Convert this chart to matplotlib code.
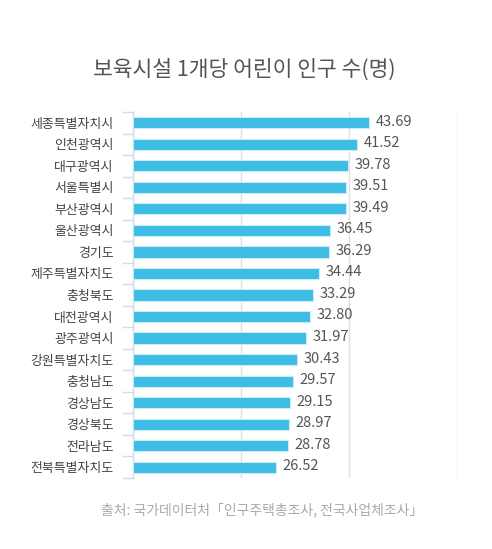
import matplotlib
matplotlib.use("Agg")
import matplotlib.pyplot as plt

plt.rcParams['font.family'] = ['Noto Sans CJK KR', 'DejaVu Sans']

regions = ["세종특별자치시", "인천광역시", "대구광역시", "서울특별시", "부산광역시", "울산광역시",
           "경기도", "제주특별자치도", "충청북도", "대전광역시", "광주광역시", "강원특별자치도",
           "충청남도", "경상남도", "경상북도", "전라남도", "전북특별자치도"]
values = [43.69, 41.52, 39.78, 39.51, 39.49, 36.45, 36.29, 34.44, 33.29, 32.80, 31.97,
          30.43, 29.57, 29.15, 28.97, 28.78, 26.52]
value_labels = ["43.69", "41.52", "39.78", "39.51", "39.49", "36.45", "36.29", "34.44", "33.29",
                "32.80", "31.97", "30.43", "29.57", "29.15", "28.97", "28.78", "26.52"]
x_grid = [0, 20, 40, 60]

title = "보육시설 1개당 어린이 인구 수(명)"
source = "출처: 국가데이터처「인구주택총조사, 전국사업체조사」"

fig = plt.figure(figsize=(4.92, 5.49), dpi=100)
ax = fig.add_axes([133/492, 1-478/549, (457-133)/492, (478-112)/549])

n = len(regions)
ypos = list(range(n))
ax.barh(ypos, values, height=0.52, color="#3dbde3", edgecolor="#c9ecf7", linewidth=0.8, zorder=3)
for y, v, lab in zip(ypos, values, value_labels):
    ax.text(v + 1.2, y - 0.05, lab, va="center", ha="left", fontsize=10.5, color="#555555")

ax.set_xlim(0, 60)
ax.set_ylim(n - 0.5, -0.5)
ax.set_xticks(x_grid)
ax.xaxis.grid(True, color="#e0e0e0", linewidth=1, zorder=0)
ax.tick_params(axis="x", length=0, labelbottom=False)

ax.set_yticks(ypos)
ax.set_yticklabels(regions, fontsize=9.3, color="#444444")
ax.tick_params(axis="y", length=0, pad=14)
bounds = [i - 0.5 for i in range(n + 1)]
ax.set_yticks(bounds, minor=True)
ax.tick_params(axis="y", which="minor", length=8, color="#d5dbe6", width=1)

for s in ["top", "right", "bottom"]:
    ax.spines[s].set_visible(False)
ax.spines["left"].set_color("#d5dbe6")
ax.spines["left"].set_linewidth(1)

fig.text(244/492, 1-70/549, title, ha="center", va="center", fontsize=15.5, color="#555555")
fig.text(262/492, 1-510/549, source, ha="center", va="center", fontsize=10, color="#aaaaaa")

fig.savefig("out.png", dpi=100)
